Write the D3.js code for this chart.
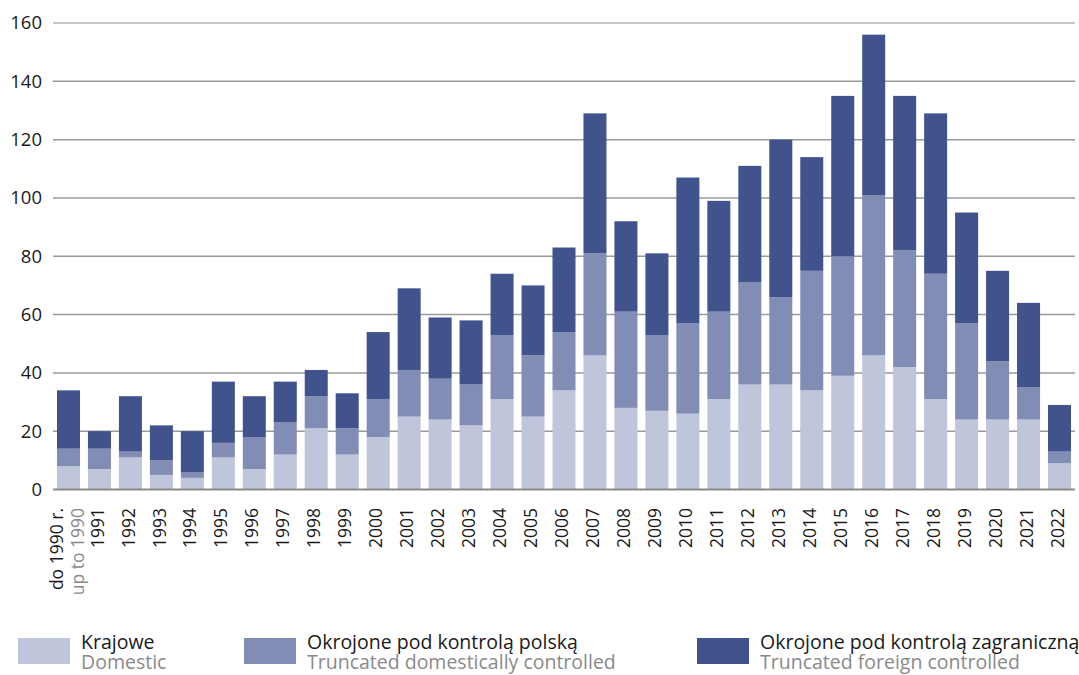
<!DOCTYPE html>
<html>
<head>
<meta charset="utf-8">
<script src="https://cdn.jsdelivr.net/npm/d3@7"></script>
<style>
  html, body { margin: 0; padding: 0; background: #fff; }
  svg { display: block; font-family: "Open Sans", "Noto Sans", sans-serif; }
</style>
</head>
<body>
<svg id="chart" width="1079" height="675"></svg>
<script>
const categories = ["do 1990 r.", "1991", "1992", "1993", "1994", "1995", "1996", "1997", "1998", "1999",
  "2000", "2001", "2002", "2003", "2004", "2005", "2006", "2007", "2008", "2009", "2010",
  "2011", "2012", "2013", "2014", "2015", "2016", "2017", "2018", "2019", "2020", "2021", "2022"];
const firstCategorySubLabel = "up to 1990";
const domestic = [8, 7, 11, 5, 4, 11, 7, 12, 21, 12, 18, 25, 24, 22, 31, 25, 34, 46, 28, 27, 26,
  31, 36, 36, 34, 39, 46, 42, 31, 24, 24, 24, 9];
const truncatedDomestic = [6, 7, 2, 5, 2, 5, 11, 11, 11, 9, 13, 16, 14, 14, 22, 21, 20, 35, 33, 26, 31,
  30, 35, 30, 41, 41, 55, 40, 43, 33, 20, 11, 4];
const truncatedForeign = [20, 6, 19, 12, 14, 21, 14, 14, 9, 12, 23, 28, 21, 22, 21, 24, 29, 48, 31, 28, 50,
  38, 40, 54, 39, 55, 55, 53, 55, 38, 31, 29, 16];
const yTicks = [0, 20, 40, 60, 80, 100, 120, 140, 160];
const seriesNames = [
  { pl: "Krajowe", en: "Domestic" },
  { pl: "Okrojone pod kontrolą polską", en: "Truncated domestically controlled" },
  { pl: "Okrojone pod kontrolą zagraniczną", en: "Truncated foreign controlled" }
];
const colors = ["#bfc5da", "#818db5", "#41538d"];

const svg = d3.select("#chart");
const x = d3.scaleBand().domain(categories).range([53, 1075]).paddingInner(0.257).paddingOuter(0.1285);
const y = d3.scaleLinear().domain([0, 160]).range([489.5, 23]);

// gridlines
const grid = svg.append("g");
grid.selectAll("line").data(yTicks.filter(d => d > 0)).join("line")
  .attr("x1", 53).attr("x2", 1075)
  .attr("y1", d => y(d)).attr("y2", d => y(d))
  .attr("stroke", d => d === 160 ? "#b5b5b5" : "#9a9a9a")
  .attr("stroke-width", 1.5);

// y tick labels
const yAxis = d3.axisLeft(y).tickValues(yTicks).tickSize(0).tickPadding(0);
const yg = svg.append("g").attr("transform", "translate(42,0)").call(yAxis);
yg.select(".domain").remove();
yg.selectAll("text").attr("font-size", 18.5).attr("fill", "#1a1a1a")
  .attr("font-family", "'Open Sans', sans-serif");

// stacked data
const rows = categories.map((c, i) => ({ cat: c, d: domestic[i], p: truncatedDomestic[i], f: truncatedForeign[i] }));
const stack = d3.stack().keys(["d", "p", "f"]);
const layers = stack(rows);

svg.append("g").selectAll("g").data(layers).join("g")
  .attr("fill", (d, i) => colors[i])
  .selectAll("rect").data(d => d).join("rect")
  .attr("x", d => x(d.data.cat))
  .attr("width", x.bandwidth())
  .attr("y", d => y(d[1]))
  .attr("height", d => y(d[0]) - y(d[1]));

// baseline
svg.append("line").attr("x1", 53).attr("x2", 1075).attr("y1", y(0)).attr("y2", y(0))
  .attr("stroke", "#8a8a8a").attr("stroke-width", 2);

// x labels
const xg = svg.append("g");
categories.forEach((c, i) => {
  const cx = x(c) + x.bandwidth() / 2;
  if (i === 0) {
    xg.append("text").attr("transform", `translate(${cx - 12},508) rotate(-90)`)
      .attr("text-anchor", "end").attr("dy", "0.35em")
      .attr("font-size", 17.5).attr("fill", "#1a1a1a").text(c);
    xg.append("text").attr("transform", `translate(${cx + 9},508) rotate(-90)`)
      .attr("text-anchor", "end").attr("dy", "0.35em")
      .attr("font-size", 17.5).attr("fill", "#8a8a8a").text(firstCategorySubLabel);
  } else {
    xg.append("text").attr("transform", `translate(${cx - 2},508) rotate(-90)`)
      .attr("text-anchor", "end").attr("dy", "0.35em")
      .attr("font-size", 17.5).attr("fill", "#1a1a1a").text(c);
  }
});

// legend
const legendX = [18, 244, 697];
const lg = svg.append("g");
seriesNames.forEach((s, i) => {
  const g = lg.append("g").attr("transform", `translate(${legendX[i]},0)`);
  g.append("rect").attr("x", 0).attr("y", 638).attr("width", 52).attr("height", 26).attr("fill", colors[i]);
  g.append("text").attr("x", 63).attr("y", 649).attr("font-size", 19.5).attr("fill", "#1a1a1a").text(s.pl);
  g.append("text").attr("x", 63).attr("y", 669).attr("font-size", 19.5).attr("fill", "#8a8a8a").text(s.en);
});
</script>
</body>
</html>
